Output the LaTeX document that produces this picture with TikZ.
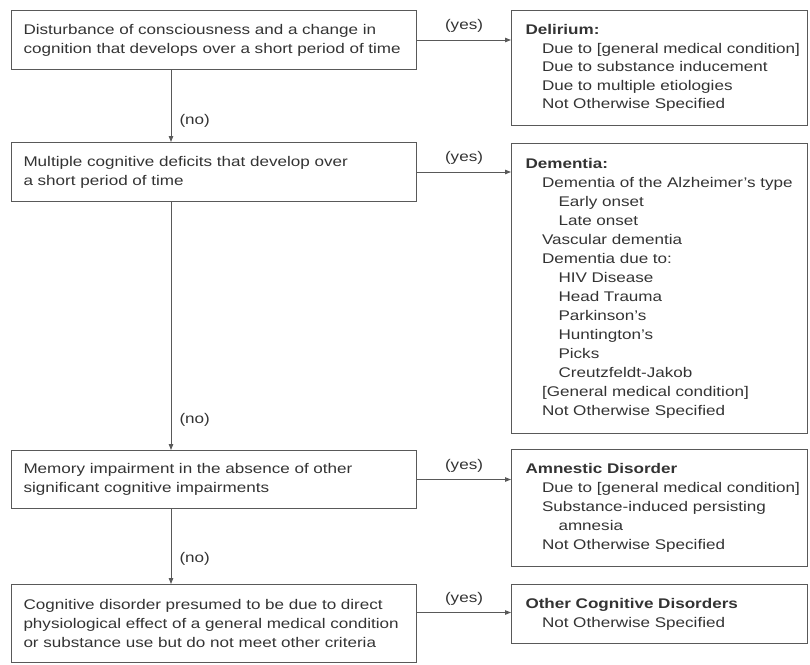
\documentclass[tikz,border=0pt]{standalone}
\usepackage{fontspec}
\setmainfont{Liberation Sans}[FakeStretch=1.22]
\usetikzlibrary{arrows.meta}

\definecolor{ink}{gray}{0.2}
\definecolor{rule}{gray}{0.35}

\tikzset{
  qbox/.style={draw=rule, line width=1pt, anchor=north west, align=left,
    text width=393pt, inner xsep=6pt, inner ysep=0pt, text=ink,
    execute at begin node={\leftskip=6pt}},
  dxbox/.style={draw=rule, line width=1pt, anchor=north west, align=left,
    text width=284pt, inner xsep=6pt, inner ysep=0pt, text=ink,
    execute at begin node={\leftskip=8pt}},
  flow/.style={draw=rule, line width=1pt, -{Triangle[length=6pt,width=4.5pt]}},
  tag/.style={text=ink, inner sep=1pt}
}
\newcommand{\lvA}{\hspace*{16.5pt}}
\newcommand{\lvB}{\hspace*{33pt}}

\begin{document}
\begin{tikzpicture}[x=1pt,y=-1pt,font=\fontsize{14pt}{19pt}\selectfont]
\useasboundingbox (0,0) rectangle (810,664);
\coordinate (spine) at (171,0);

% questions
\node[qbox, minimum height=59pt] (q1) at (11,10)
  {Disturbance of consciousness and a change in\\cognition that develops over a short period of time};
\node[qbox, minimum height=59pt] (q2) at (11,142)
  {Multiple cognitive deficits that develop over\\a short period of time};
\node[qbox, minimum height=58pt] (q3) at (11,450)
  {Memory impairment in the absence of other\\significant cognitive impairments};
\node[qbox, minimum height=78pt] (q4) at (11,584)
  {Cognitive disorder presumed to be due to direct\\physiological effect of a general medical condition\\or substance use but do not meet other criteria};

% diagnoses
\node[dxbox, minimum height=115pt, font=\fontsize{14pt}{18.6pt}\selectfont] (r1) at (511,10)
  {\textbf{Delirium:}\\
   \lvA Due to [general medical condition]\\
   \lvA Due to substance inducement\\
   \lvA Due to multiple etiologies\\
   \lvA Not Otherwise Specified};
\node[dxbox, minimum height=290pt] (r2) at (511,143)
  {\textbf{Dementia:}\\
   \lvA Dementia of the Alzheimer's type\\
   \lvB Early onset\\
   \lvB Late onset\\
   \lvA Vascular dementia\\
   \lvA Dementia due to:\\
   \lvB HIV Disease\\
   \lvB Head Trauma\\
   \lvB Parkinson's\\
   \lvB Huntington's\\
   \lvB Picks\\
   \lvB Creutzfeldt-Jakob\\
   \lvA [General medical condition]\\
   \lvA Not Otherwise Specified};
\node[dxbox, minimum height=117pt] (r3) at (511,449)
  {\textbf{Amnestic Disorder}\\
   \lvA Due to [general medical condition]\\
   \lvA Substance-induced persisting\\
   \lvB amnesia\\
   \lvA Not Otherwise Specified};
\node[dxbox, minimum height=59pt] (r4) at (511,584)
  {\textbf{Other Cognitive Disorders}\\
   \lvA Not Otherwise Specified};

% yes branches
\draw[flow] (q1.east) -- node[tag, above=6pt] (y1) {(yes)} (q1.east -| r1.west);
\draw[flow] (q2.east) -- node[tag, above=6pt] (y2) {(yes)} (q2.east -| r2.west);
\draw[flow] (q3.east) -- node[tag, above=6pt] (y3) {(yes)} (q3.east -| r3.west);
\draw[flow] ([yshift=11pt]q4.east) -- node[tag, above=6pt] (y4) {(yes)} ([yshift=11pt]q4.east -| r4.west);

% no branches
\draw[flow] (q1.south -| spine) -- node[tag, pos=0.7, anchor=west, xshift=7pt] (n1) {(no)} (q2.north -| spine);
\draw[flow] (q2.south -| spine) -- node[tag, pos=0.88, anchor=west, xshift=7pt] (n2) {(no)} (q3.north -| spine);
\draw[flow] (q3.south -| spine) -- node[tag, pos=0.67, anchor=west, xshift=7pt] (n3) {(no)} (q4.north -| spine);
\end{tikzpicture}
\end{document}
